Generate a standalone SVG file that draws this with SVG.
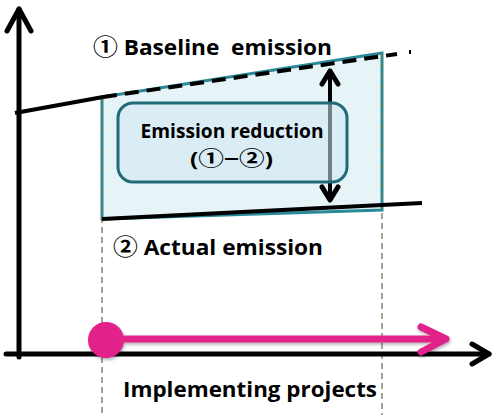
<svg xmlns="http://www.w3.org/2000/svg" width="495" height="415" viewBox="0 0 495 415">
<style>
.t{font-family:"Open Sans",Lato,"Noto Sans CJK JP",sans-serif;font-weight:700;fill:#000}
.c{font-family:"Noto Sans CJK JP","DejaVu Sans",sans-serif;font-weight:700}
.guide{stroke:#6b7a55;stroke-width:1.3;stroke-dasharray:6,4;fill:none}
.ax{stroke:#000;stroke-width:5;fill:none;stroke-linecap:round;stroke-linejoin:round}
.ln{stroke:#000;stroke-width:4;fill:none}
</style>
<defs>
<filter id="sh" x="-10%" y="-30%" width="120%" height="160%">
<feDropShadow dx="1" dy="2" stdDeviation="1.5" flood-color="#000" flood-opacity="0.3"/>
</filter>
</defs>
<g id="area">
<polygon points="102,97 382,53 382,210 102,219" fill="#e6f4f8" stroke="#2a8a9a" stroke-width="3"/>
</g>
<g id="guides">
<line class="guide" x1="102" y1="97" x2="102" y2="415"/>
<line class="guide" x1="382" y1="53" x2="382" y2="415"/>
</g>
<g id="connectors">
<line class="ln" x1="15" y1="113" x2="103" y2="97"/>
<line class="ln" x1="103" y1="97" x2="397" y2="54" stroke-dasharray="14,8"/>
<line class="ln" x1="409" y1="52" x2="411" y2="52" stroke-width="2.5"/>
<line class="ln" x1="102" y1="219" x2="422" y2="203"/>
<g id="reduction-arrow">
<line x1="330" y1="70" x2="330" y2="200" stroke="#000" stroke-width="4"/>
<polyline class="ax" points="322,84 330,71 338,84" stroke-width="4"/>
<polyline class="ax" points="322,187 330,200 338,187" stroke-width="4"/>
</g>
</g>
<g id="axes">
<polyline class="ax" points="19,357 19,9"/>
<polyline class="ax" points="7,31 19,9 31,31"/>
<polyline class="ax" points="6,354 489,354"/>
<polyline class="ax" points="472,344 489,354 472,364"/>
</g>
<g id="node-reduction">
<rect x="118" y="103" width="229" height="79" rx="15" fill="#d2e8f0" fill-opacity="0.55" stroke="#1f6b78" stroke-width="3"/>
<text class="t" x="232" y="138" font-size="19" text-anchor="middle" textLength="183" lengthAdjust="spacingAndGlyphs">Emission reduction</text>
<text class="t" x="190" y="166" font-size="19" textLength="83" lengthAdjust="spacingAndGlyphs">(<tspan class="c" font-size="20">①−②</tspan>)</text>
</g>
<g id="label-baseline">
<text class="t" x="93" y="55" font-size="21" textLength="239" lengthAdjust="spacingAndGlyphs"><tspan class="c" font-size="23">①</tspan> Baseline&#160; emission</text>
</g>
<g id="label-actual">
<text class="t" x="113" y="255" font-size="21" textLength="210" lengthAdjust="spacingAndGlyphs"><tspan class="c" font-size="23">②</tspan> Actual emission</text>
</g>
<g id="label-x">
<text class="t" x="123" y="397" font-size="21" textLength="254" lengthAdjust="spacingAndGlyphs">Implementing projects</text>
</g>
<g id="projects-arrow" filter="url(#sh)">
<line x1="106" y1="339" x2="444" y2="339" stroke="#e0218a" stroke-width="7"/>
<polyline points="421,327 446,339 421,352" fill="none" stroke="#e0218a" stroke-width="7" stroke-linecap="round" stroke-linejoin="round"/>
<circle cx="106" cy="340" r="18" fill="#e0218a"/>
</g>
</svg>
